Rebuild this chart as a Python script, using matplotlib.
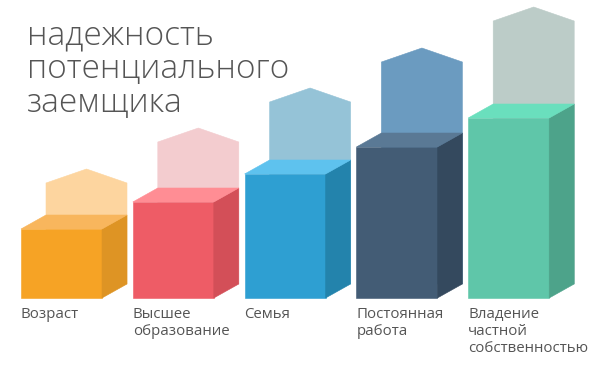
import matplotlib.pyplot as plt
from matplotlib.patches import Polygon

categories = ["Возраст", "Высшее\nобразование", "Семья", "Постоянная\nработа",
              "Владение\nчастной\nсобственностью"]
values = [69, 96, 124, 151, 180]          # front bar height
targets = [115, 156, 196, 236, 277]       # ghost (pale arrow) shoulder height
front_colors = ["#F6A325", "#EE5C66", "#2E9FD2", "#435C75", "#5FC6A9"]
side_colors = ["#DE9424", "#D34F58", "#2383AC", "#34495E", "#4DA38A"]
top_colors = ["#F8B65D", "#FF8D94", "#5EC2EE", "#5A7995", "#6ADFBD"]
ghost_colors = ["#FDD59F", "#F3CCCF", "#95C3D7", "#6B9BC0", "#BCCCC8"]

title_lines = ["надежность", "потенциального", "заемщика"]

plt.rcParams['font.family'] = ['Open Sans', 'DejaVu Sans']

fig = plt.figure(figsize=(6, 3.66), dpi=100)
ax = fig.add_axes([0, 0, 1, 1])
ax.set_xlim(0, 600)
ax.set_ylim(-68, 298)
ax.axis('off')

x0, step, w = 21, 111.8, 81
dx, dy = 25, 14


def face(pts, color):
    # thin edge in the same colour hides antialiasing seams between faces
    ax.add_patch(Polygon(pts, closed=True, fc=color, ec=color, lw=0.4))


for i, (cat, v, t) in enumerate(zip(categories, values, targets)):
    x = x0 + step * i
    # ghost pentagon behind
    face([(x + dx, dy), (x + dx + w, dy), (x + dx + w, t),
          (x + dx + w / 2, t + dy), (x + dx, t)], ghost_colors[i])
    face([(x, 0), (x + w, 0), (x + w, v), (x, v)], front_colors[i])
    face([(x + w, 0), (x + w + dx, dy), (x + w + dx, v + dy), (x + w, v)], side_colors[i])
    face([(x, v), (x + w, v), (x + w + dx, v + dy), (x + dx, v + dy)], top_colors[i])
    ax.text(x, -9, cat, ha='left', va='top', fontsize=10.8, color='#555555',
            linespacing=1.2)

for j, line in enumerate(title_lines):
    fig.text(27 / 600, 1 - (44 + 34 * j) / 366, line, ha='left', va='baseline',
             fontsize=24, color='#555555', fontweight='light')

fig.savefig("out.png", dpi=100)
